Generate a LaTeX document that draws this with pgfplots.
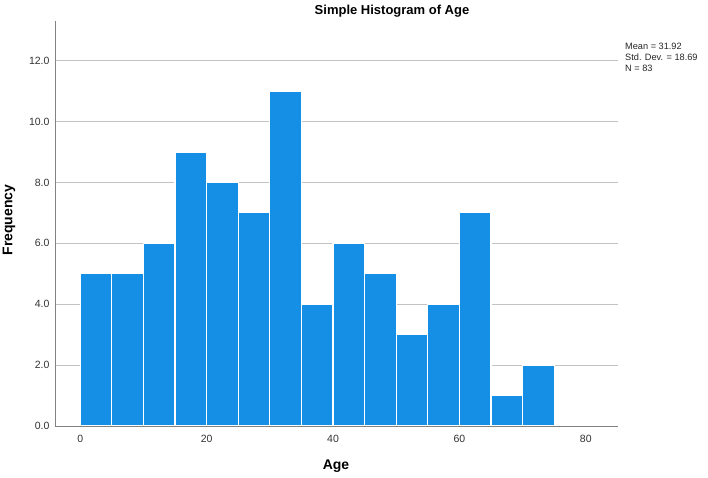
\documentclass[border=0pt]{standalone}
\usepackage{fontspec}
\setmainfont{Liberation Sans}
\usepackage{pgfplots}
\pgfplotsset{compat=1.18}
\definecolor{barblue}{RGB}{20,143,229}
\definecolor{gridgray}{RGB}{195,195,195}
\definecolor{axgray}{RGB}{130,130,130}
\begin{document}
\begin{tikzpicture}
\begin{axis}[
    scale only axis,
    width=563pt, height=405pt,
    xmin=-4, xmax=85.1,
    ymin=0, ymax=13.3,
    axis lines*=left,
    axis line style={draw=axgray, line width=0.9pt},
    xtick={0,20,...,80},
    ytick={0,2,...,12},
    major tick length=0pt,
    ymajorgrids,
    major grid style={draw=gridgray, line width=0.9pt},
    tick label style={font=\fontsize{10.5}{12}\selectfont, text=black!80},
    /pgf/number format/assume math mode=true,
    yticklabel style={/pgf/number format/fixed, /pgf/number format/fixed zerofill,
        /pgf/number format/precision=1, xshift=-2pt},
    xticklabel style={yshift=-6pt},
]
\addplot[ybar interval, fill=barblue, draw=white, line width=1.2pt] coordinates {
(0,5) (5,5) (10,6) (15,9) (20,8) (25,7) (30,11) (35,4)
(40,6) (45,5) (50,3) (55,4) (60,7) (65,1) (70,2) (75,2)
};
% redraw the x axis line over the white bar edges
\draw[axgray, line width=0.9pt] (axis cs:-4,0) -- (axis cs:85.1,0);
\end{axis}
\node[font=\bfseries\fontsize{13}{15}\selectfont] at (337pt,415pt) {Simple Histogram of Age};
\node[font=\bfseries\fontsize{14}{16}\selectfont] at (281pt,-40pt) {Age};
\node[font=\bfseries\fontsize{14}{16}\selectfont, rotate=90] at (-46pt,206pt) {Frequency};
\node[anchor=north west, align=left, inner sep=0pt, font=\fontsize{9.2}{11}\selectfont, text=black!85]
  at (570pt,383pt) {Mean = 31.92\\Std. Dev. = 18.69\\N = 83};
\pgfresetboundingbox
\useasboundingbox (-55pt,-51pt) rectangle (653pt,426pt);
\end{tikzpicture}
\end{document}
